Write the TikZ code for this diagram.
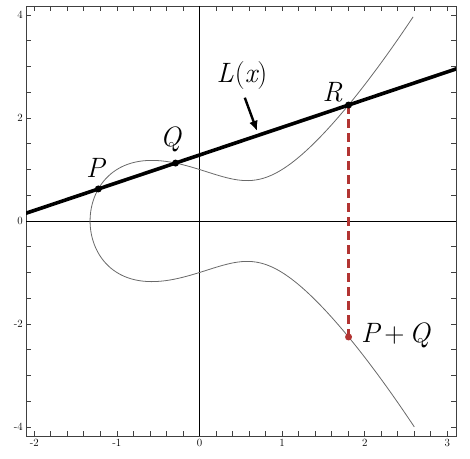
\documentclass[tikz,border=0pt]{standalone}
\usetikzlibrary{arrows.meta,positioning,calc}
\definecolor{ecRed}{RGB}{178,52,50}
\definecolor{ecGray}{RGB}{105,105,105}
\begin{document}
\begin{tikzpicture}[
  x=82.6pt, y=51.5pt,
  declare function={ecf(\u)=\u*\u*\u-\u+1;},
  frame/.style={draw=black!75, line width=0.8pt},
  axis/.style={black, line width=0.9pt},
  curve/.style={ecGray, line width=0.8pt},
  chord/.style={black, line width=3.6pt},
  mirror/.style={ecRed, line width=3.4pt, dash pattern=on 9pt off 5pt},
  dot/.style={circle, fill=black, inner sep=0pt, minimum size=7pt},
  ptlabel/.style={inner sep=0pt, font=\fontsize{28}{30}\selectfont\itshape},
  ticklab/.style={inner sep=0pt, font=\fontsize{11}{12}\selectfont},
  pointer/.style={-{Latex[length=10pt,width=9pt]}, line width=2.4pt}
]
  \useasboundingbox (-2.4153,-4.6214) rectangle (3.2748,4.2913);
  \coordinate (fsw) at (-2.10,-4.175);
  \coordinate (fne) at (3.105,4.175);

  % frame, ticks and tick labels
  \draw[frame] (fsw) rectangle (fne);
  \foreach \k in {-10,...,15} {
    \draw[frame] (\k/5,-4.175) -- ++(0,5pt);
    \draw[frame] (\k/5,4.175) -- ++(0,-5pt);
  }
  \foreach \k in {-8,...,8} {
    \draw[frame] (-2.10,\k/2) -- ++(5pt,0);
    \draw[frame] (3.105,\k/2) -- ++(-5pt,0);
  }
  \foreach \v in {-2,...,3}
    \node[ticklab, below=3pt] at (\v,-4.175) {\v};
  \foreach \v in {-4,-2,0,2,4}
    \node[ticklab, left=3pt] at (-2.10,\v) {\v};

  % axes
  \draw[axis] (-2.10,0) -- (3.105,0);
  \draw[axis] (0,-4.175) -- (0,4.175);

  % the curve y^2 = x^3 - x + 1
  \draw[curve] plot[variable=\t, domain=-1.9811:1.9811, samples=241, smooth]
    ({-1.324718+\t*\t}, {sign(\t)*sqrt(abs(ecf(-1.324718+\t*\t)))});

  % points
  \coordinate (P) at (-1.225,0.6219);
  \coordinate (Q) at (-0.29,1.1250);
  \coordinate (R) at (1.8045,2.2520);
  \coordinate (PQ) at (1.8045,-2.2520);

  \draw[mirror] (R) -- (PQ);
  \begin{scope}
    \clip (fsw) rectangle (fne);
    \draw[chord] ($(P)!-1!(R)$) -- ($(P)!2!(R)$);
  \end{scope}

  \node[dot] (Pdot) at (P) {};
  \node[dot] (Qdot) at (Q) {};
  \node[dot] (Rdot) at (R) {};
  \node[dot, fill=ecRed] (PQdot) at (PQ) {};

  % labels
  \node[ptlabel, anchor=base] (Plab) at ([shift={(-3pt,11pt)}]P) {P};
  \node[ptlabel, anchor=base] (Qlab) at ([shift={(-5pt,17pt)}]Q) {Q};
  \node[ptlabel, anchor=base] (Rlab) at ([shift={(-16pt,4pt)}]R) {R};
  \node[ptlabel, anchor=base] (PQlab) at ([shift={(47pt,-6pt)}]PQ) {P\,{\upshape+}\,Q};
  \node[ptlabel, anchor=base] (Llab) at (0.515,2.68) {L\kern1pt{\upshape(}x{\upshape)}};
  \coordinate (ltip) at (0.696,1.75);
  \draw[pointer, shorten <=8pt] (Llab.south) -- (ltip);
\end{tikzpicture}
\end{document}
